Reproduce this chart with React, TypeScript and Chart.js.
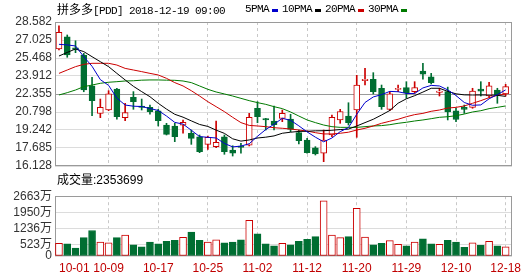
import { useEffect, useRef } from 'react';
import { Chart, registerables } from 'chart.js';

Chart.register(...registerables);

// ---------- data ----------
const dates = [
  '10-01', '10-02', '10-03', '10-04', '10-05', '10-08', '10-09', '10-10', '10-11', '10-12',
  '10-15', '10-16', '10-17', '10-18', '10-19', '10-22', '10-23', '10-24', '10-25', '10-26',
  '10-29', '10-30', '10-31', '11-01', '11-02', '11-05', '11-06', '11-07', '11-08', '11-09',
  '11-12', '11-13', '11-14', '11-15', '11-16', '11-19', '11-20', '11-21', '11-23', '11-26',
  '11-27', '11-28', '11-29', '11-30', '12-03', '12-04', '12-06', '12-07', '12-10', '12-11',
  '12-12', '12-13', '12-14', '12-17', '12-18',
];
const xTickDates = ['10-01', '10-09', '10-17', '10-25', '11-02', '11-12', '11-20', '11-29', '12-10', '12-18'];

const opens = [
  26.25, 27.31, 26.35, 25.73, 23.07, 20.68, 20.97, 22.79, 20.31, 22.07,
  21.32, 21.2, 20.91, 19.67, 19.59, 19.67, 18.96, 18.66, 18.0, 17.8,
  18.66, 17.51, 17.86, 17.92, 21.12, 20.22, 20.02, 20.25, 20.19, 19.01,
  18.38, 17.71, 17.23, 18.81, 20.11, 20.45, 20.97, 23.51, 23.63, 22.85,
  21.03, 22.76, 22.9, 22.56, 24.34, 23.85, 22.5, 22.56, 20.9, 21.2,
  21.2, 22.79, 22.18, 22.7, 22.36,
];
const highs = [
  28.24, 27.46, 26.96, 25.87, 23.8, 21.92, 22.64, 22.85, 21.55, 22.56,
  21.92, 21.4, 21.03, 19.82, 19.82, 20.11, 19.24, 18.81, 18.72, 20.02,
  18.81, 17.88, 18.09, 20.68, 21.69, 20.25, 21.32, 20.97, 20.6, 19.24,
  18.52, 17.8, 19.24, 20.54, 21.03, 21.6, 23.97, 24.58, 24.2, 23.13,
  22.56, 23.13, 23.42, 23.42, 25.01, 24.14, 22.85, 22.95, 21.12, 21.4,
  22.85, 23.42, 23.37, 22.85, 23.19,
];
const lows = [
  26.16, 25.53, 25.93, 22.55, 20.48, 20.31, 20.91, 20.17, 20.05, 21.03,
  20.97, 20.62, 19.59, 18.81, 18.23, 18.96, 18.0, 17.28, 17.57, 17.71,
  17.14, 16.99, 17.23, 17.86, 19.87, 19.24, 19.24, 19.96, 19.09, 18.03,
  17.23, 17.08, 16.5, 18.66, 19.82, 19.67, 18.61, 23.13, 22.36, 21.03,
  20.91, 22.56, 21.98, 22.42, 23.63, 23.22, 22.18, 20.11, 19.96, 20.68,
  21.12, 22.18, 22.07, 21.55, 22.18,
];
const closes = [
  27.69, 25.73, 26.2, 22.7, 21.78, 21.2, 22.36, 20.39, 20.74, 21.69,
  21.2, 20.83, 20.05, 18.87, 18.66, 19.91, 18.52, 17.37, 18.61, 18.18,
  17.37, 17.23, 17.74, 20.34, 20.39, 20.11, 19.7, 20.68, 19.3, 18.32,
  17.28, 17.17, 18.38, 20.34, 20.83, 19.87, 23.13, 23.63, 22.56, 21.26,
  22.36, 22.85, 22.47, 22.9, 24.06, 23.33, 22.61, 20.8, 20.15, 21.03,
  22.61, 22.61, 23.07, 22.27, 22.99,
];
// volume in 万 shares
const volumes = [
  562, 546, 356, 820, 1134, 615, 588, 820, 930, 492,
  410, 615, 546, 656, 697, 834, 1066, 697, 615, 724,
  588, 615, 724, 1585, 984, 546, 451, 562, 492, 656,
  738, 861, 2460, 930, 820, 861, 2118, 848, 492, 562,
  684, 520, 451, 615, 766, 546, 520, 697, 615, 383,
  588, 480, 656, 451, 410,
];
const ma5 = [
  26.65, 26.6, 26.51, 25.58, 24.75, 23.6, 23.1, 22.0, 21.4, 21.3,
  21.27, 21.1, 20.93, 20.45, 19.9, 19.75, 19.22, 18.67, 18.61, 18.55,
  18.08, 17.78, 17.85, 18.05, 18.7, 19.28, 19.74, 20.25, 20.08, 19.6,
  19.08, 18.62, 18.22, 18.55, 19.1, 19.45, 20.6, 21.62, 22.1, 22.3,
  22.58, 22.55, 22.4, 22.4, 22.88, 23.1, 23.05, 22.71, 22.22, 21.62,
  21.38, 21.41, 21.94, 22.3, 22.71,
];
const ma10 = [
  25.64, 25.95, 26.25, 26.02, 25.58, 25.15, 24.72, 24.14, 23.57, 23.02,
  22.56, 22.12, 21.55, 21.05, 20.6, 20.35, 20.03, 19.72, 19.55, 19.23,
  18.95, 18.48, 18.28, 18.38, 18.55, 18.62, 18.73, 18.96, 19.05, 19.12,
  19.13, 19.17, 19.18, 19.22, 19.28, 19.32, 19.59, 19.88, 20.17, 20.54,
  20.93, 21.56, 21.94, 22.21, 22.52, 22.85, 22.85, 22.58, 22.37, 22.28,
  22.27, 22.27, 22.27, 22.24, 22.15,
];
const ma20 = [
  24.14, 24.43, 24.72, 24.92, 25.01, 25.01, 25.01, 24.86, 24.57, 24.43,
  24.29, 24.14, 24.0, 23.71, 23.34, 23.05, 22.64, 22.18, 21.69, 21.26,
  20.83, 20.34, 19.88, 19.64, 19.59, 19.53, 19.44, 19.39, 19.33, 19.24,
  19.15, 19.01, 18.9, 18.9, 18.96, 19.05, 19.24, 19.39, 19.59, 19.82,
  20.0, 20.17, 20.39, 20.57, 20.68, 20.86, 20.97, 21.14, 21.2, 21.32,
  21.55, 21.78, 22.04, 22.24, 22.36,
];
const ma30 = [
  22.27, 22.47, 22.7, 22.99, 23.13, 23.28, 23.37, 23.42, 23.48, 23.5,
  23.55, 23.57, 23.57, 23.55, 23.54, 23.48, 23.34, 23.05, 22.76, 22.53,
  22.36, 22.18, 21.98, 21.78, 21.61, 21.46, 21.26, 21.09, 20.8, 20.45,
  20.11, 19.88, 19.67, 19.53, 19.47, 19.47, 19.47, 19.53, 19.59, 19.62,
  19.7, 19.82, 19.91, 20.02, 20.11, 20.22, 20.34, 20.39, 20.48, 20.62,
  20.8, 20.91, 21.09, 21.2, 21.32,
];
const priceTickLabels = ['28.582', '27.025', '25.468', '23.912', '22.355', '20.798', '19.242', '17.685', '16.128'];
const volumeTicks = [0, 523, 1236, 1950, 2663];
const maNames = ['5PMA', '10PMA', '20PMA', '30PMA'];
const maColors = ['#0000cc', '#000000', '#cc0000', '#007a00'];
const stockName = '拼多多';
const stockCode = '[PDD]';
const timeStamp = '2018-12-19 09:00';
const volumeLabel = '成交量';
const volumeValue = '2353699';

// ---------- styling ----------
const RED = '#cc0000';
const GREEN = '#006e32';
const SANS = "'Liberation Sans', 'Noto Sans CJK SC', sans-serif";
const X_MIN = -0.48;
const X_MAX = 54.77;

const boxPlugin = {
  id: 'box',
  beforeDatasetsDraw(chart: any) {
    const { ctx, chartArea: a } = chart;
    ctx.save();
    ctx.strokeStyle = '#9a9a9a';
    ctx.lineWidth = 1;
    const l = Math.round(a.left) + 0.5;
    const t = Math.round(a.top) + 0.5;
    const r = Math.round(a.right) - 0.5;
    const b = Math.round(a.bottom) - 0.5;
    ctx.strokeRect(l, t, r - l, b - t);
    ctx.restore();
  },
};

function xScale(showLabels: boolean) {
  return {
    type: 'linear',
    min: X_MIN,
    max: X_MAX,
    offset: false,
    afterBuildTicks: (s: any) => {
      s.ticks = [...xTickDates.map((d) => ({ value: dates.indexOf(d) })), { value: X_MAX }];
    },
    afterFit: (s: any) => {
      s.height = showLabels ? 20 : 0;
    },
    ticks: {
      display: showLabels,
      autoSkip: false,
      maxRotation: 0,
      minRotation: 0,
      align: 'inner',
      padding: 5,
      color: '#c00000',
      font: { family: SANS, size: 12 },
      callback: (v: number) => (v <= dates.length - 1 ? dates[Math.round(v)] : ''),
    },
    grid: {
      offset: false,
      drawTicks: false,
      lineWidth: 1,
      color: (c: any) =>
        c.index === 0 || (c.tick && c.tick.value > dates.length - 0.5) ? 'rgba(0,0,0,0)' : '#c8c8c8',
    },
    border: { display: false, dash: [3, 3] },
  };
}

export default function App() {
  const priceRef = useRef<HTMLCanvasElement>(null);
  const volRef = useRef<HTMLCanvasElement>(null);

  useEffect(() => {
    const up = closes.map((c, i) => c >= opens[i]);
    const priceVals = priceTickLabels.map(Number);
    const asc = priceVals.map((v, i) => ({ v, l: priceTickLabels[i] })).sort((a, b) => a.v - b.v);

    const priceChart = new Chart(priceRef.current as HTMLCanvasElement, {
      type: 'bar',
      data: {
        datasets: [
          ...[ma5, ma10, ma20, ma30].map((arr, k) => ({
            type: 'line' as const,
            label: maNames[k],
            data: arr.map((v, i) => ({ x: i, y: v })),
            borderColor: maColors[k],
            borderWidth: 1,
            pointRadius: 0,
            tension: 0,
            fill: false,
            order: 1,
          })),
          {
            type: 'bar' as const,
            label: 'body',
            data: dates.map((_, i) => ({ x: i, y: [Math.min(opens[i], closes[i]), Math.max(opens[i], closes[i])] })),
            backgroundColor: up.map((u) => (u ? '#ffffff' : GREEN)),
            borderColor: up.map((u) => (u ? RED : GREEN)),
            borderWidth: 1,
            borderSkipped: false,
            barThickness: 6,
            grouped: false,
            order: 2,
          },
          {
            type: 'bar' as const,
            label: 'wick',
            data: dates.map((_, i) => ({ x: i, y: [lows[i], highs[i]] })),
            backgroundColor: up.map((u) => (u ? RED : GREEN)),
            borderWidth: 0,
            barThickness: 1,
            grouped: false,
            order: 3,
          },
        ] as any,
      },
      options: {
        animation: false,
        responsive: false,
        devicePixelRatio: 1,
        events: [],
        layout: { padding: { top: 22, right: 18, bottom: 12, left: 0 } },
        plugins: { legend: { display: false }, tooltip: { enabled: false } },
        scales: {
          x: xScale(false) as any,
          y: {
            type: 'linear',
            min: asc[0].v,
            max: asc[asc.length - 1].v,
            afterBuildTicks: (s: any) => {
              s.ticks = asc.map((t) => ({ value: t.v }));
            },
            afterFit: (s: any) => {
              s.width = 55;
            },
            ticks: {
              autoSkip: false,
              padding: 3,
              color: '#333333',
              font: { family: SANS, size: 12 },
              callback: (_v: any, i: number) => asc[i].l,
            },
            grid: {
              drawTicks: false,
              color: (c: any) => (c.index === 4 ? '#9a9a9a' : '#dcdcdc'),
            },
            border: { display: false },
          },
        },
      },
      plugins: [boxPlugin],
    });

    const volChart = new Chart(volRef.current as HTMLCanvasElement, {
      type: 'bar',
      data: {
        datasets: [
          {
            label: 'volume',
            data: volumes.map((v, i) => ({ x: i, y: v })),
            backgroundColor: up.map((u) => (u ? '#ffffff' : GREEN)),
            borderColor: up.map((u) => (u ? RED : GREEN)),
            borderWidth: 1,
            borderSkipped: false,
            barThickness: 7,
            grouped: false,
          },
        ] as any,
      },
      options: {
        animation: false,
        responsive: false,
        devicePixelRatio: 1,
        events: [],
        layout: { padding: { top: 6, right: 18, bottom: 0, left: 0 } },
        plugins: { legend: { display: false }, tooltip: { enabled: false } },
        scales: {
          x: xScale(true) as any,
          y: {
            type: 'linear',
            min: volumeTicks[0],
            max: volumeTicks[volumeTicks.length - 1],
            afterBuildTicks: (s: any) => {
              s.ticks = volumeTicks.map((v) => ({ value: v }));
            },
            afterFit: (s: any) => {
              s.width = 55;
            },
            ticks: {
              autoSkip: false,
              padding: 3,
              color: '#333333',
              font: { family: SANS, size: 12 },
              callback: (v: number) => (v === 0 ? '0' : v + '万'),
            },
            grid: { drawTicks: false, color: '#dcdcdc' },
            border: { display: false },
          },
        },
      },
      plugins: [boxPlugin],
    });

    return () => {
      priceChart.destroy();
      volChart.destroy();
    };
  }, []);

  const mono = { fontFamily: "'Liberation Mono', 'DejaVu Sans Mono', monospace", fontSize: 11, letterSpacing: '-0.6px' };

  return (
    <div style={{ position: 'fixed', left: 0, top: 0, width: 530, height: 276, background: '#fff', overflow: 'hidden' }}>
      <canvas ref={priceRef} width={530} height={178} style={{ position: 'absolute', left: 0, top: 0 }} />
      <canvas ref={volRef} width={530} height={90} style={{ position: 'absolute', left: 0, top: 186 }} />
      <div style={{ position: 'absolute', left: 57, top: 2, height: 14, lineHeight: '14px', whiteSpace: 'nowrap', color: '#000' }}>
        <span style={{ fontFamily: "'Noto Sans CJK SC', sans-serif", fontSize: 12 }}>{stockName}</span>
        <span style={mono}>{stockCode + ' ' + timeStamp}</span>
      </div>
      <div style={{ position: 'absolute', left: 245, top: 2, height: 14, lineHeight: '14px', whiteSpace: 'nowrap', display: 'flex', alignItems: 'center', color: '#000' }}>
        {maNames.map((n, k) => (
          <span key={n} style={{ display: 'flex', alignItems: 'center', marginRight: 4 }}>
            <span style={mono}>{n}</span>
            <span style={{ display: 'inline-block', width: 6, height: 3, background: maColors[k], marginLeft: 3, marginTop: 2 }} />
          </span>
        ))}
      </div>
      <div style={{ position: 'absolute', left: 57, top: 173, height: 14, lineHeight: '14px', whiteSpace: 'nowrap', color: '#000', fontFamily: SANS, fontSize: 12 }}>
        {volumeLabel}:{volumeValue}
      </div>
    </div>
  );
}
